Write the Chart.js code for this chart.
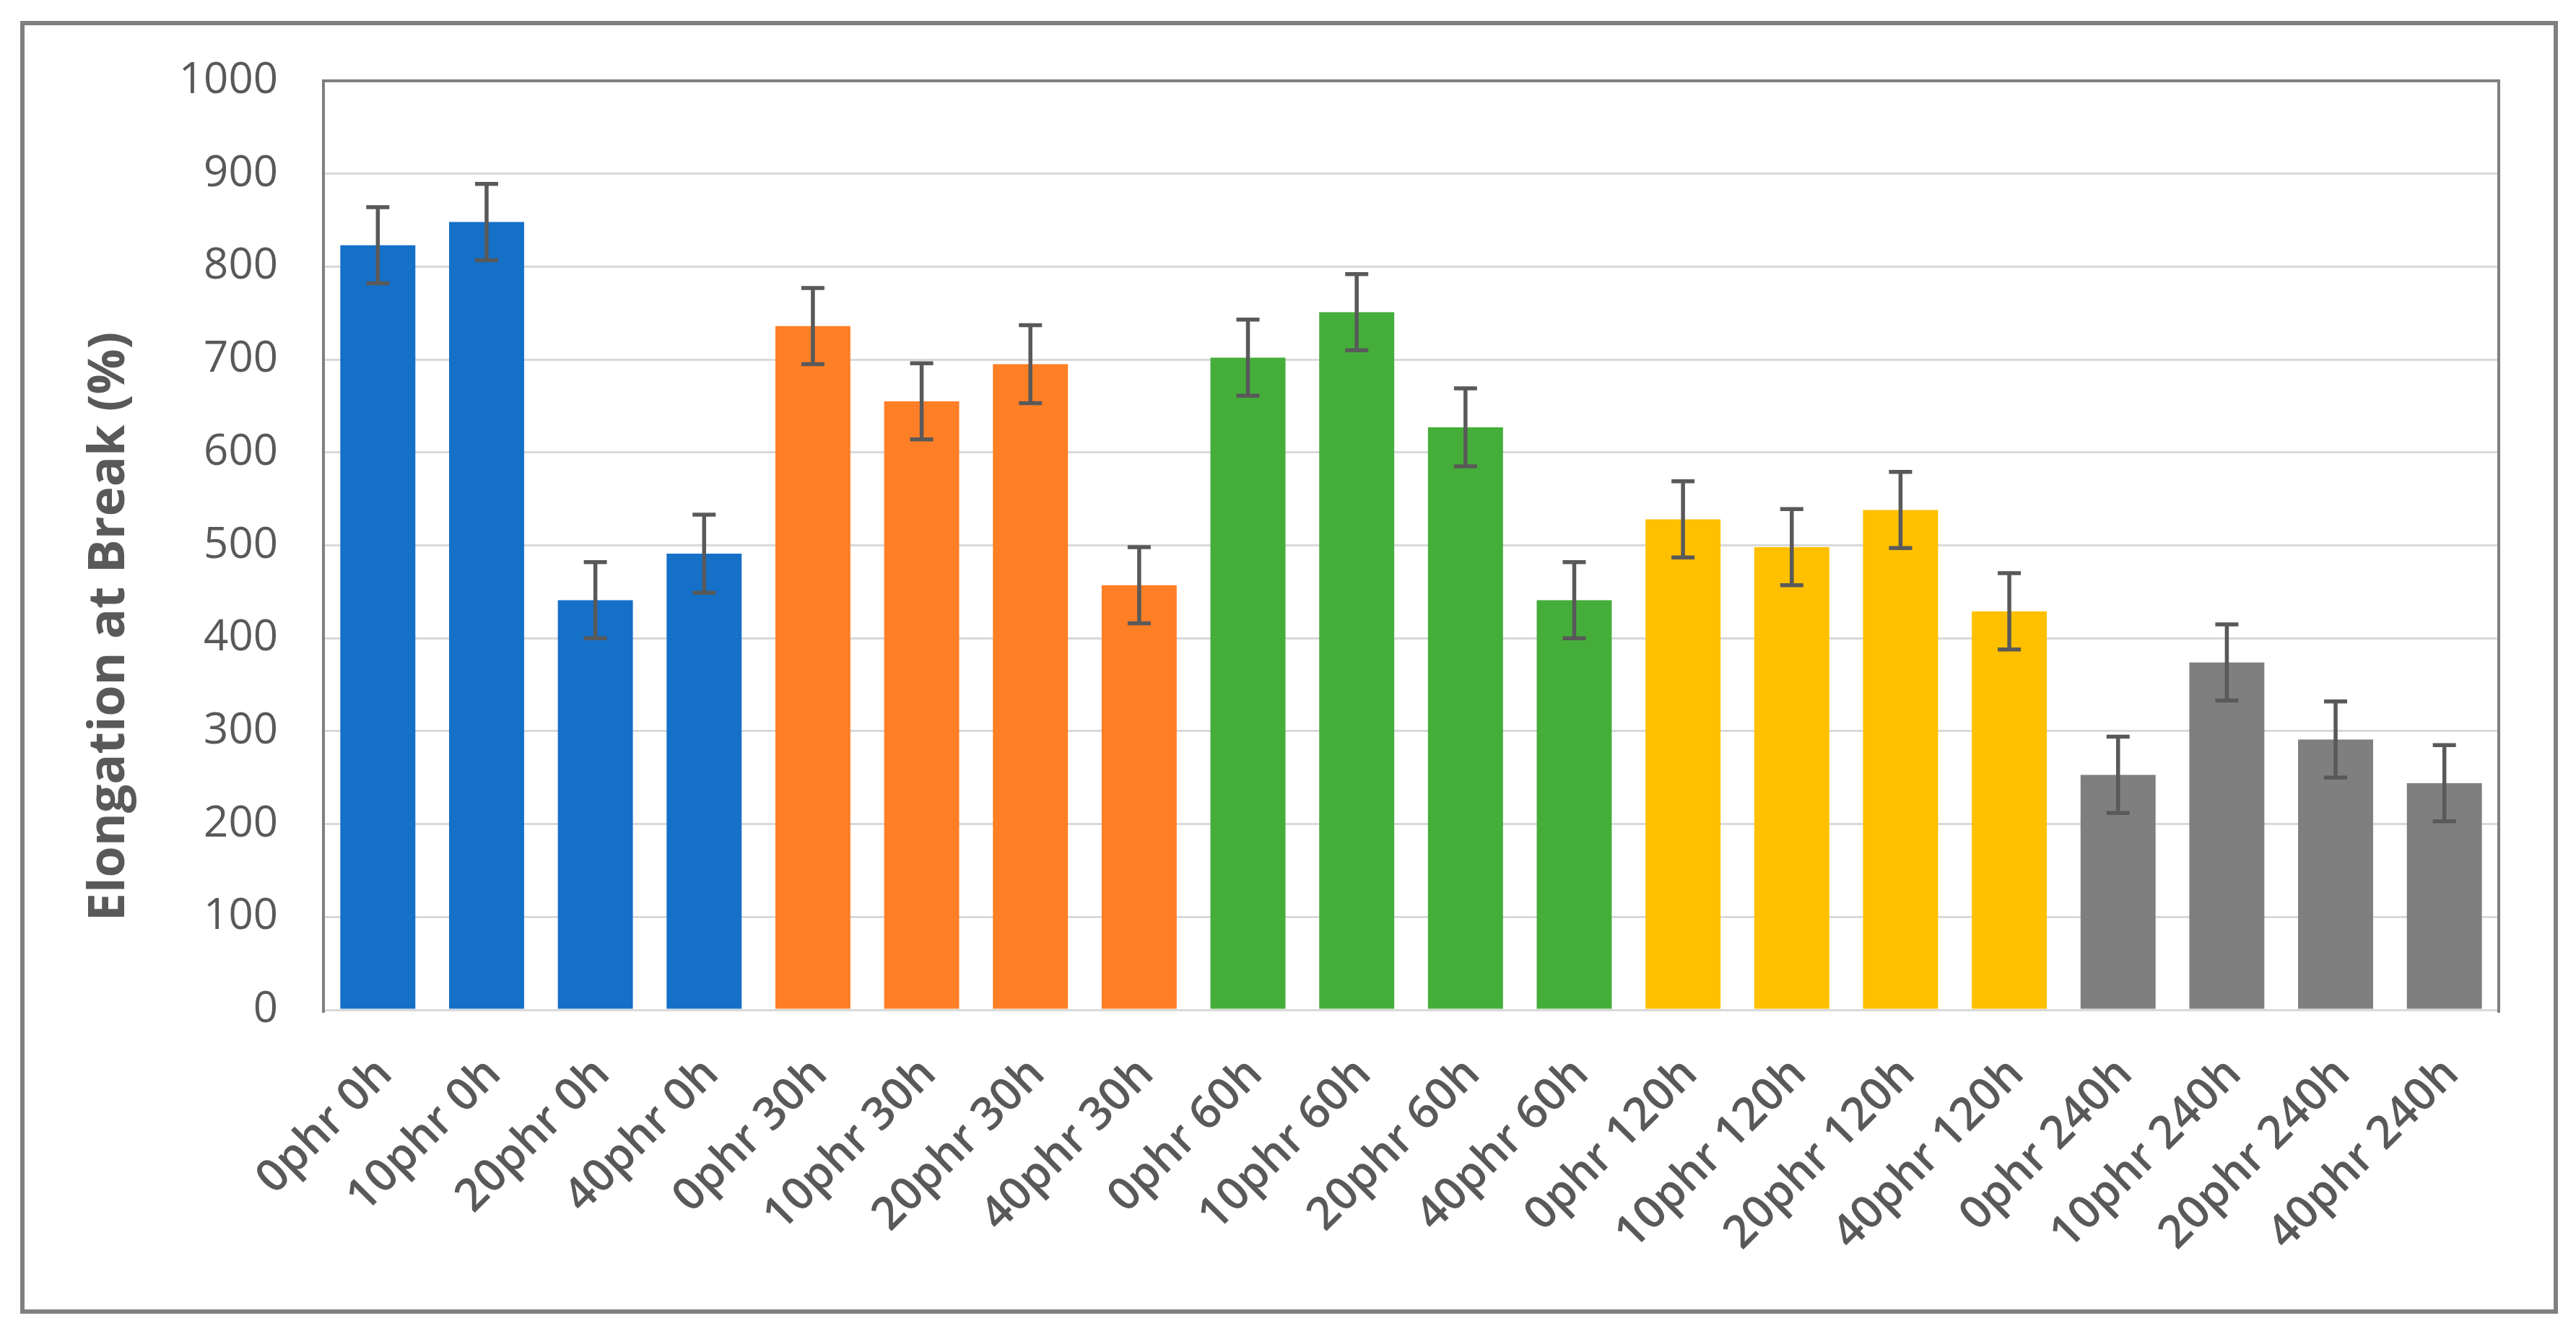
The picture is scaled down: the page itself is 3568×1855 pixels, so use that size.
<!DOCTYPE html>
<html>
<head>
<meta charset="utf-8">
<script src="https://cdn.jsdelivr.net/npm/chart.js@4.4.1/dist/chart.umd.min.js"></script>
<style>
  html, body { margin: 0; padding: 0; background: #ffffff; }
  #wrap { width: 3568px; height: 1855px; position: relative; }
</style>
</head>
<body>
<div id="wrap"><canvas id="c" width="3568" height="1855"></canvas></div>
<script>
// ---- data ----
const categories = [
  '0phr 0h', '10phr 0h', '20phr 0h', '40phr 0h',
  '0phr 30h', '10phr 30h', '20phr 30h', '40phr 30h',
  '0phr 60h', '10phr 60h', '20phr 60h', '40phr 60h',
  '0phr 120h', '10phr 120h', '20phr 120h', '40phr 120h',
  '0phr 240h', '10phr 240h', '20phr 240h', '40phr 240h'
];
const elongation = [
  823, 848, 441, 491,
  736, 655, 695, 457,
  702, 751, 627, 441,
  528, 498, 538, 429,
  253, 374, 291, 244
];
const errorValues = [
  41, 41, 41, 42,
  41, 41, 42, 41,
  41, 41, 42, 41,
  41, 41, 41, 41,
  41, 41, 41, 41
];
const groupColors = ['#1570C8', '#FF7F27', '#45AE3A', '#FFC000', '#7F7F7F'];
const yTitle = 'Elongation at Break (%)';
const yMin = 0, yMax = 1000, yStep = 100;

// ---- plugins ----
const bgPlugin = {
  id: 'bg',
  beforeDraw(chart) {
    const ctx = chart.ctx;
    ctx.save();
    ctx.fillStyle = '#ffffff';
    ctx.fillRect(0, 0, chart.width, chart.height);
    ctx.restore();
  },
  afterDraw(chart) {
    const ctx = chart.ctx;
    const a = chart.chartArea;
    ctx.save();
    // plot area border (left, top, right)
    ctx.strokeStyle = '#7F7F7F';
    ctx.lineWidth = 4;
    ctx.beginPath();
    ctx.moveTo(a.left, a.bottom + 4);
    ctx.lineTo(a.left, a.top);
    ctx.lineTo(a.right, a.top);
    ctx.lineTo(a.right, a.bottom + 4);
    ctx.stroke();
    // outer frame
    ctx.strokeStyle = '#808080';
    ctx.lineWidth = 6;
    ctx.strokeRect(31, 32, 3540 - 31, 1817 - 32);
    // y axis title
    ctx.fillStyle = '#595959';
    ctx.font = '700 70px "Open Sans"';
    ctx.textAlign = 'center';
    ctx.textBaseline = 'middle';
    ctx.translate(152, 868);
    ctx.rotate(-Math.PI / 2);
    ctx.fillText(yTitle, 0, 0);
    ctx.restore();
  }
};

const errorBarPlugin = {
  id: 'errorBars',
  afterDatasetsDraw(chart) {
    const ctx = chart.ctx;
    const yScale = chart.scales.y;
    const meta = chart.getDatasetMeta(0);
    ctx.save();
    ctx.strokeStyle = '#595959';
    ctx.lineWidth = 5.5;
    ctx.lineCap = 'butt';
    meta.data.forEach((bar, i) => {
      const v = elongation[i], e = errorValues[i];
      const x = bar.x;
      const yTop = yScale.getPixelForValue(v + e);
      const yBot = yScale.getPixelForValue(v - e);
      const cap = 16;
      ctx.beginPath();
      ctx.moveTo(x, yTop); ctx.lineTo(x, yBot);
      ctx.moveTo(x - cap, yTop); ctx.lineTo(x + cap, yTop);
      ctx.moveTo(x - cap, yBot); ctx.lineTo(x + cap, yBot);
      ctx.stroke();
    });
    ctx.restore();
  }
};

const barColors = categories.map((_, i) => groupColors[Math.floor(i / 4)]);

new Chart(document.getElementById('c'), {
  type: 'bar',
  data: {
    labels: categories,
    datasets: [{
      label: yTitle,
      data: elongation,
      backgroundColor: barColors,
      borderWidth: 0,
      barPercentage: 0.69,
      categoryPercentage: 1.0
    }]
  },
  options: {
    responsive: false,
    devicePixelRatio: 1,
    animation: false,
    layout: { padding: { left: 0, top: 112, right: 107, bottom: 0 } },
    plugins: {
      legend: { display: false },
      title: { display: false },
      tooltip: { enabled: false }
    },
    scales: {
      y: {
        min: yMin, max: yMax,
        ticks: {
          stepSize: yStep,
          font: { family: 'Open Sans', size: 60 },
          color: '#595959',
          padding: 63,
          callback: (v) => String(v)
        },
        grid: { color: '#D9D9D9', lineWidth: 3, drawTicks: false },
        border: { display: false },
        afterFit(scale) { scale.width = 448; }
      },
      x: {
        ticks: {
          autoSkip: false,
          minRotation: 45, maxRotation: 45,
          font: { family: 'Open Sans', size: 63, weight: '600' },
          color: '#595959',
          padding: 52,
          labelOffset: 10
        },
        grid: { display: false, drawTicks: false },
        border: { display: false },
        afterFit(scale) { scale.height = 1855 - 1399; }
      }
    }
  },
  plugins: [bgPlugin, errorBarPlugin]
});
</script>
</body>
</html>
